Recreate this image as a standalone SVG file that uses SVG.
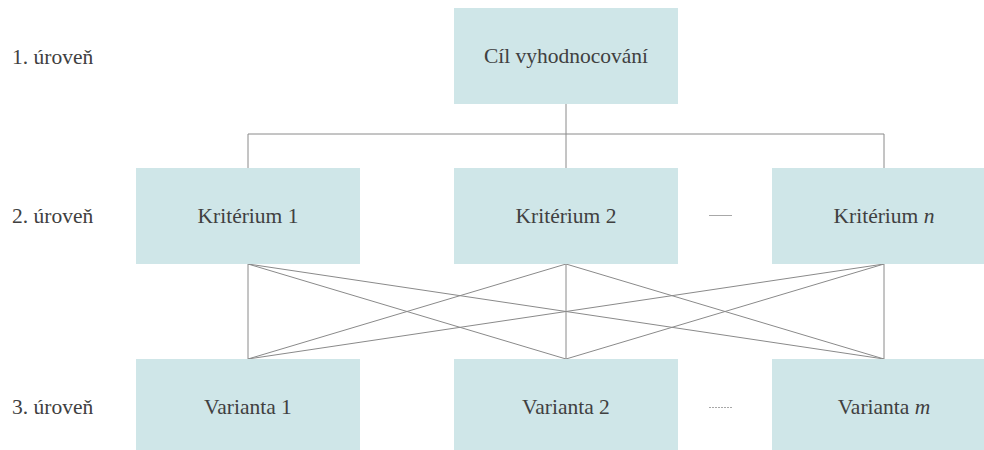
<svg xmlns="http://www.w3.org/2000/svg" width="984" height="450" viewBox="0 0 984 450">
<style>
.box{fill:#cfe6e8}
.t{font-family:"Liberation Serif","Times New Roman",serif;font-size:21.5px;fill:#404040}
.c{text-anchor:middle}
.ln{stroke:#8a8a8a;stroke-width:1;fill:none}
</style>
<rect width="984" height="450" fill="#ffffff"/>
<g id="labels">
<text class="t" x="12" y="64">1. úroveň</text>
<text class="t" x="12" y="223">2. úroveň</text>
<text class="t" x="12" y="414">3. úroveň</text>
</g>
<g id="connectors">
<path class="ln" d="M566 104V134M248 134H884M248 134V168M566 134V168M884 134V168"/>
<path class="ln" d="M248 264V359M248 264L566 359M248 264L884 359M566 264L248 359M566 264V359M566 264L884 359M884 264L248 359M884 264L566 359M884 264V359"/>
</g>
<g id="goal">
<rect class="box" x="454" y="8" width="224" height="96"/>
<text class="t c" x="566" y="63">Cíl vyhodnocování</text>
</g>
<g id="k1">
<rect class="box" x="136" y="168" width="224" height="96"/>
<text class="t c" x="248" y="223">Kritérium 1</text>
</g>
<g id="k2">
<rect class="box" x="454" y="168" width="224" height="96"/>
<text class="t c" x="566" y="223">Kritérium 2</text>
</g>
<g id="kn">
<rect class="box" x="772" y="168" width="224" height="96"/>
<text class="t c" x="884" y="223">Kritérium <tspan font-style="italic">n</tspan></text>
</g>
<g id="v1">
<rect class="box" x="136" y="359" width="224" height="96"/>
<text class="t c" x="248" y="414">Varianta 1</text>
</g>
<g id="v2">
<rect class="box" x="454" y="359" width="224" height="96"/>
<text class="t c" x="566" y="414">Varianta 2</text>
</g>
<g id="vm">
<rect class="box" x="772" y="359" width="224" height="96"/>
<text class="t c" x="884" y="414">Varianta <tspan font-style="italic">m</tspan></text>
</g>
<g id="ellipses">
<line x1="709" y1="215.5" x2="732" y2="215.5" stroke="#a8a8a8" stroke-width="1"/>
<line x1="709" y1="407.5" x2="732" y2="407.5" stroke="#a8a8a8" stroke-width="1" stroke-dasharray="2 1"/>
</g>
</svg>
